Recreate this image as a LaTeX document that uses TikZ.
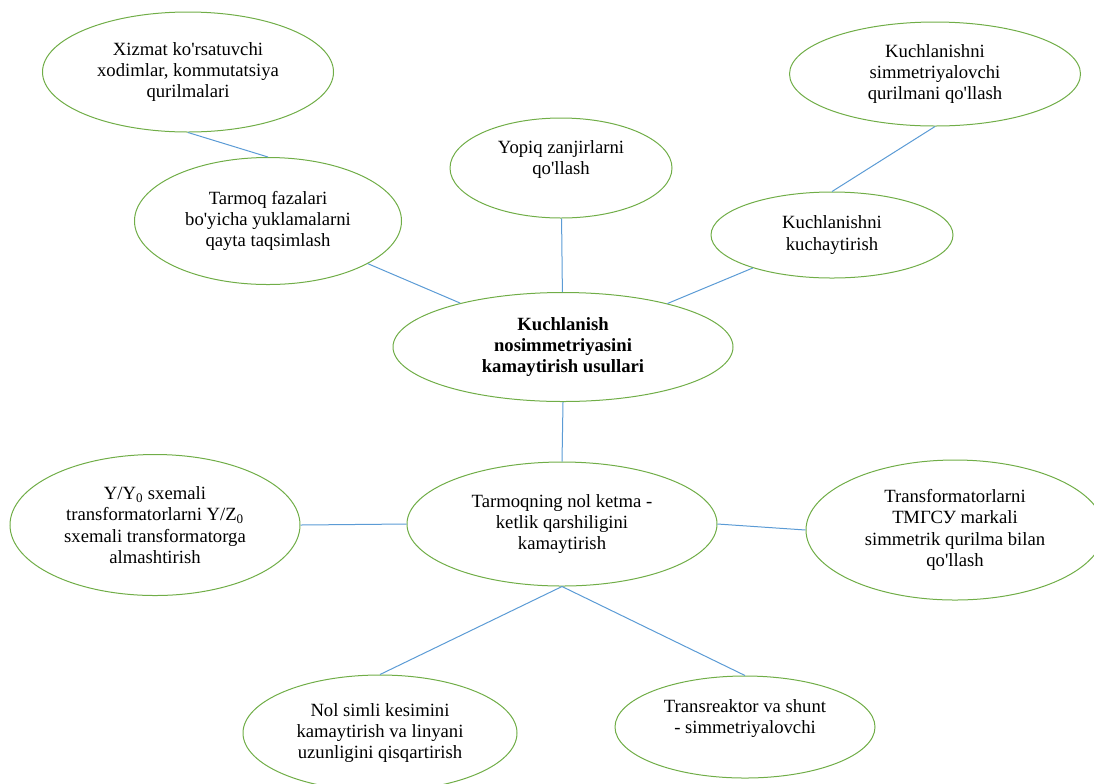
\documentclass[tikz,border=0pt]{standalone}
\usepackage{fontspec}
\setmainfont{Liberation Serif}
\usetikzlibrary{shapes.geometric}

\definecolor{ovalgreen}{RGB}{112,173,71}
\definecolor{linkblue}{RGB}{91,155,213}
\newcommand{\ap}{\textquotesingle}

\begin{document}
\begin{tikzpicture}[
  x=0.75pt, y=-0.75pt,
  oval/.style={draw=ovalgreen, ellipse, line width=0.75pt, inner xsep=-40pt, inner ysep=-20pt, align=center, font=\fontsize{14}{16}\selectfont},
  dims/.style 2 args={minimum width=#1*0.75pt, minimum height=#2*0.75pt},
  link/.style={draw=linkblue, line width=0.75pt}
]
\useasboundingbox (0,0) rectangle (1094,783);

% Nodes
\node[oval, dims={291}{120}] (xizmat) at (188,72) {Xizmat ko\ap rsatuvchi\\ xodimlar, kommutatsiya\\ qurilmalari};
\node[oval, dims={267}{127}] (fazalar) at (268,221) {Tarmoq fazalari\\ bo\ap yicha yuklamalarni\\ qayta taqsimlash};
\node[oval, dims={222}{100}] (yopiq) at (561,168) {Yopiq zanjirlarni\\ qo\ap llash\\ \mbox{}};
\node[oval, dims={291}{104}] (simqur) at (935,74) {Kuchlanishni\\ simmetriyalovchi\\ qurilmani qo\ap llash};
\node[oval, dims={242}{86}] (kuchayt) at (832,235) {Kuchlanishni\\ kuchaytirish};
\node[oval, dims={340}{109}, font=\fontsize{14}{16}\selectfont\bfseries] (usul) at (563,347) {Kuchlanish\\ nosimmetriyasini\\ kamaytirish usullari};
\node[oval, dims={310}{124}] (nolket) at (562,524) {Tarmoqning nol ketma -\\ ketlik qarshiligini\\ kamaytirish};
\node[oval, dims={290}{141}] (yyz) at (155,525) {Y/Y\textsubscript{0} sxemali\\ transformatorlarni Y/Z\textsubscript{0}\\ sxemali transformatorga\\ almashtirish};
\node[oval, dims={298}{140}] (tmgsu) at (955,530) {Transformatorlarni\\ ТМГСУ markali\\ simmetrik qurilma bilan\\ qo\ap llash};
\node[oval, dims={274}{116}] (nolsim) at (380,733) {Nol simli kesimini\\ kamaytirish va linyani\\ uzunligini qisqartirish};
\node[oval, dims={260}{102}] (transr) at (745,727) {Transreaktor va shunt\\ - simmetriyalovchi\\ \mbox{}};

% Links
\draw[link] (xizmat.south) -- (fazalar.north);
\draw[link] (fazalar) -- (usul);
\draw[link] (yopiq) -- (usul);
\draw[link] (usul) -- (kuchayt);
\draw[link] (simqur.south) -- (kuchayt.north);
\draw[link] (usul.south) -- (nolket.north);
\draw[link] (yyz.east) -- (nolket.west);
\draw[link] (nolket.east) -- (tmgsu.west);
\draw[link] (nolket.south) -- (nolsim.north);
\draw[link] (nolket.south) -- (transr.north);

\end{tikzpicture}
\end{document}
